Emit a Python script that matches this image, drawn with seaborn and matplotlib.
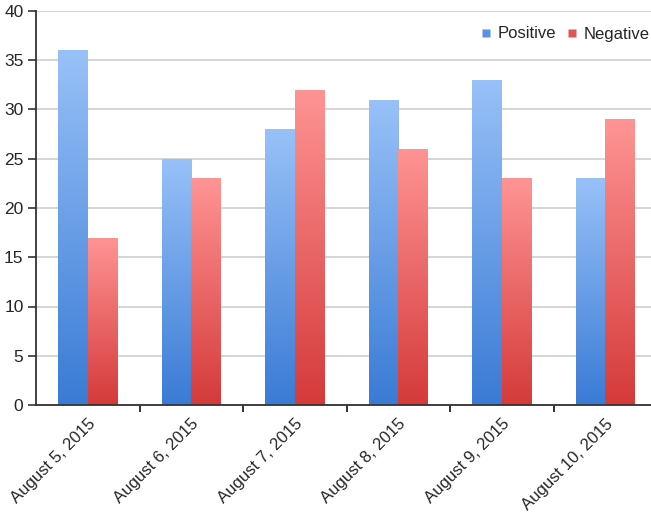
import numpy as np
import pandas as pd
import matplotlib
matplotlib.use("Agg")
import matplotlib.pyplot as plt
from matplotlib.colors import LinearSegmentedColormap
from matplotlib.lines import Line2D
import seaborn as sns

dates = ["August 5, 2015", "August 6, 2015", "August 7, 2015",
         "August 8, 2015", "August 9, 2015", "August 10, 2015"]
positive = [36, 25, 28, 31, 33, 23]
negative = [17, 23, 32, 26, 23, 29]
series = ["Positive", "Negative"]
y_ticks = [0, 5, 10, 15, 20, 25, 30, 35, 40]

df = pd.DataFrame({
    "date": dates * 2,
    "count": positive + negative,
    "sentiment": [series[0]] * len(dates) + [series[1]] * len(dates),
})

sns.set_style("white")
plt.rcParams["font.family"] = ["Liberation Sans", "DejaVu Sans"]

fig = plt.figure(figsize=(6.51, 5.2), dpi=100)
W, H = 651, 520
ax = fig.add_axes([36 / W, 1 - 405 / H, (657 - 36) / W, (405 - 11) / H])

# gradient stops: light at bar top, deep at bar base
grad = {
    "Positive": ("#3a7bd5", "#98c1f8"),
    "Negative": ("#d53a3a", "#ff9494"),
}
mid = {"Positive": "#5b92e0", "Negative": "#e05555"}

sns.barplot(data=df, x="date", y="count", hue="sentiment", order=dates,
            hue_order=series, palette=[mid[s] for s in series],
            width=0.57, ax=ax, legend=False, zorder=3)

for cont, name in zip(ax.containers, series):
    cmap = LinearSegmentedColormap.from_list(name, grad[name])
    for bar in cont:
        x0, w, h = bar.get_x(), bar.get_width(), bar.get_height()
        img = ax.imshow(np.linspace(0, 1, 256).reshape(-1, 1), cmap=cmap,
                        origin="lower", aspect="auto",
                        extent=[x0, x0 + w, 0, h], zorder=3.5)
        img.set_clip_path(bar)
        bar.set_facecolor("none")
        bar.set_edgecolor("none")

ax.set_xlim(-0.5, 5.5)
ax.set_ylim(0, 40)
ax.set_aspect("auto")

# horizontal grid
ax.set_yticks(y_ticks)
ax.yaxis.grid(True, color="#d2d2d2", linewidth=1.3, zorder=0)
ax.xaxis.grid(False)
ax.set_axisbelow(True)

for s in ["top", "right"]:
    ax.spines[s].set_visible(False)
for s in ["left", "bottom"]:
    ax.spines[s].set_color("#333333")
    ax.spines[s].set_linewidth(1.3)
    ax.spines[s].set_zorder(5)

ax.tick_params(axis="y", which="major", direction="out", length=6, width=1.2,
               color="#333333", labelsize=12.5, pad=3, left=True)

# category separators as major ticks, labels on minor ticks at centres
ax.set_xticks(np.arange(len(dates) - 1) + 0.5)
ax.set_xticklabels([])
ax.tick_params(axis="x", which="major", direction="out", length=5, width=1.4,
               color="#333333", bottom=True)
ax.set_xticks(np.arange(len(dates)), minor=True)
ax.set_xticklabels(dates, minor=True, rotation=45, ha="right",
                   rotation_mode="anchor", fontsize=12)
ax.tick_params(axis="x", which="minor", length=0, pad=8)

ax.set_xlabel("")
ax.set_ylabel("")

handles = [Line2D([], [], marker="s", linestyle="none", markersize=5.5,
                  markerfacecolor=mid[s], markeredgecolor="none") for s in series]
fig.legend(handles, series, loc="center right", bbox_to_anchor=(1.008, 1 - 34 / H),
           bbox_transform=fig.transFigure, ncol=2, frameon=False,
           fontsize=12, handlelength=0.8, handletextpad=0.3,
           columnspacing=0.55, borderaxespad=0)

fig.savefig("out.png", dpi=100)
